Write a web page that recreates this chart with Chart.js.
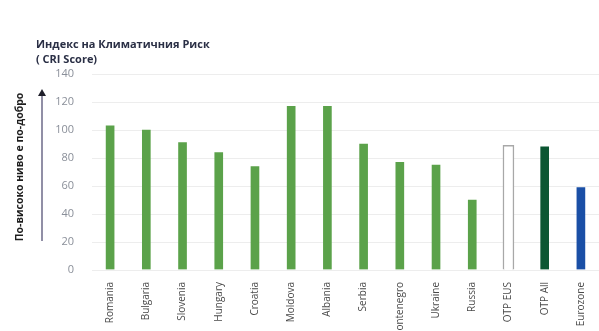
<!DOCTYPE html>
<html>
<head>
<meta charset="utf-8">
<script src="https://cdn.jsdelivr.net/npm/chart.js@4/dist/chart.umd.min.js"></script>
<style>
    html, body { margin: 0; padding: 0; background: #ffffff; }
    #wrap { width: 599px; height: 331px; position: relative; }
</style>
</head>
<body>
<div id="wrap"><canvas id="cri"></canvas></div>
<script>
// Данни за индекса на климатичния риск
const countries = ['Romania', 'Bulgaria', 'Slovenia', 'Hungary', 'Croatia', 'Moldova', 'Albania',
    'Serbia', 'Montenegro', 'Ukraine', 'Russia', 'OTP EUS', 'OTP All', 'Eurozone'];
const criScores = [104, 101, 92, 85, 75, 118, 118, 91, 78, 76, 51, 89, 89, 60];
const yTicks = [0, 20, 40, 60, 80, 100, 120, 140];

const GREEN = '#5ba24a';
const barFill = countries.map(c => c === 'OTP EUS' ? '#ffffff' : c === 'OTP All' ? '#0b5632' : c === 'Eurozone' ? '#1a4fa6' : GREEN);
const barBorder = countries.map(c => c === 'OTP EUS' ? '#a8a8a8' : 'rgba(0,0,0,0)');

// Заглавие, надпис по оста и стрелка вляво
const decorPlugin = {
    id: 'decor',
    afterDraw(chart) {
        const ctx = chart.ctx;
        ctx.save();
        ctx.fillStyle = '#2a2f45';
        ctx.font = 'bold 11px "Open Sans"';
        ctx.textBaseline = 'middle';
        ctx.fillText('Индекс на Климатичния Риск', 36, 45);
        ctx.fillText('( CRI Score)', 36, 60);

        // надпис по вертикалата
        ctx.save();
        ctx.translate(20, 167);
        ctx.rotate(-Math.PI / 2);
        ctx.textAlign = 'center';
        ctx.fillStyle = '#1e1e1e';
        ctx.font = 'bold 10.5px "Open Sans"';
        ctx.fillText('По-високо ниво е по-добро', 0, 0);
        ctx.restore();

        // стрелка
        ctx.strokeStyle = '#6c6a88';
        ctx.fillStyle = '#1e1e2a';
        ctx.lineWidth = 1.5;
        ctx.beginPath();
        ctx.moveTo(42, 241);
        ctx.lineTo(42, 95);
        ctx.stroke();
        ctx.beginPath();
        ctx.moveTo(42, 89);
        ctx.lineTo(38, 96);
        ctx.lineTo(46, 96);
        ctx.closePath();
        ctx.fill();
        ctx.restore();
    }
};

new Chart(document.getElementById('cri'), {
    type: 'bar',
    data: {
        labels: countries,
        datasets: [{
            data: criScores,
            backgroundColor: barFill,
            borderColor: barBorder,
            borderWidth: 1.5,
            barThickness: 11
        }]
    },
    options: {
        responsive: true,
        maintainAspectRatio: false,
        animation: false,
        layout: {
            padding: { top: 74, left: 0, right: 0, bottom: 0 }
        },
        plugins: {
            legend: { display: false },
            tooltip: { enabled: false }
        },
        scales: {
            x: {
                afterFit(scale) { scale.height = 61; },
                grid: { display: false },
                border: { display: false },
                ticks: {
                    maxRotation: 90,
                    minRotation: 90,
                    padding: 4,
                    color: '#4a4a4a',
                    font: { family: '"Open Sans"', size: 10 }
                }
            },
            y: {
                min: 0,
                max: 140,
                afterFit(scale) { scale.width = 92; },
                afterBuildTicks(scale) { scale.ticks = yTicks.map(v => ({ value: v })); },
                grid: { color: '#ededed', drawTicks: false },
                border: { display: false },
                ticks: {
                    padding: 18,
                    color: '#8a8f99',
                    font: { family: '"Open Sans"', size: 11 }
                }
            }
        }
    },
    plugins: [decorPlugin]
});
</script>
</body>
</html>
